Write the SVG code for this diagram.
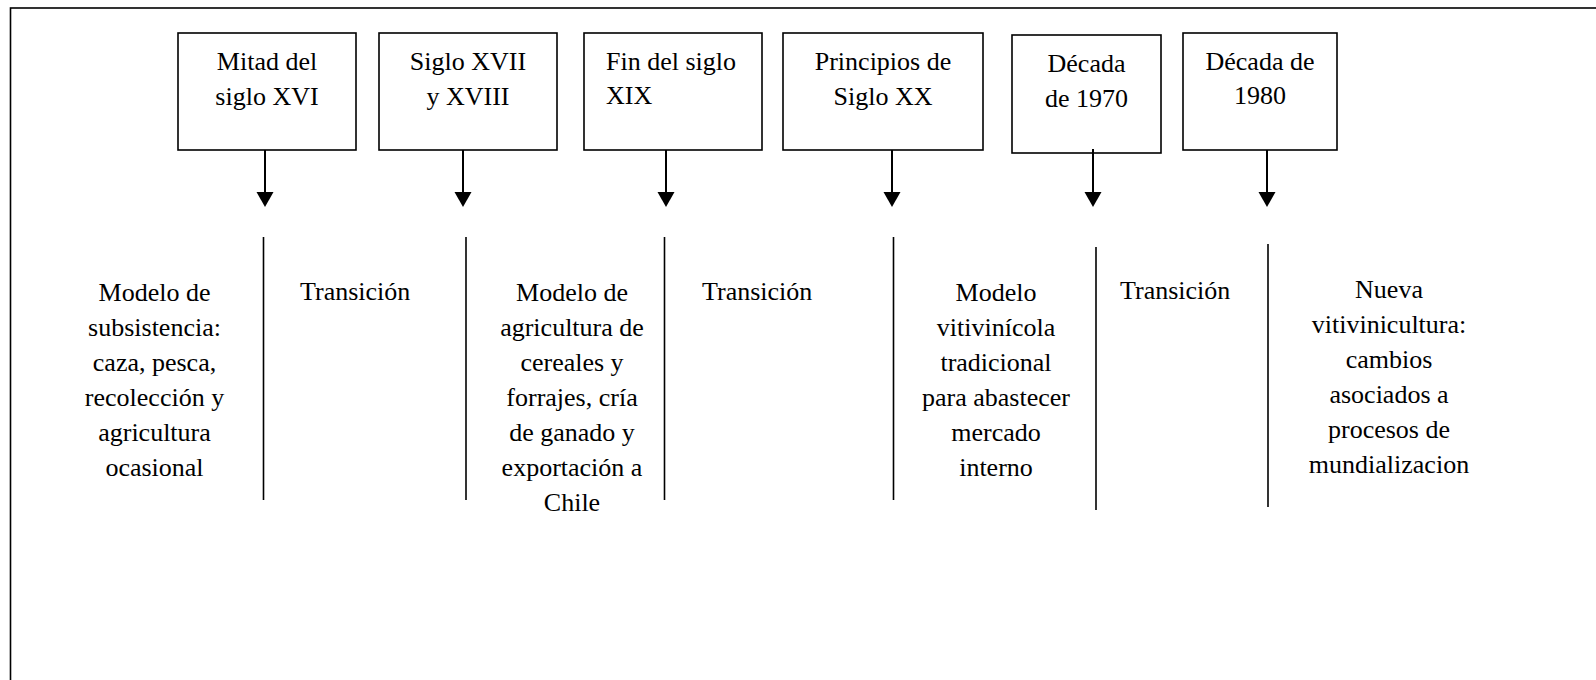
<svg xmlns="http://www.w3.org/2000/svg" width="1596" height="680" viewBox="0 0 1596 680">
<style>
  .frame{fill:none;stroke:#000;stroke-width:1.6}
  .box{fill:#fff;stroke:#000;stroke-width:1.6}
  .t{font-family:"Liberation Serif","Times New Roman",serif;font-size:26px;fill:#000}
  .c{text-anchor:middle}
  .conn{stroke:#000;stroke-width:2;fill:none}
  .div{stroke:#000;stroke-width:1.6;fill:none}
</style>
<defs>
  <marker id="arrow" markerUnits="userSpaceOnUse" markerWidth="16" markerHeight="18" refX="8" refY="8.5" orient="auto" viewBox="0 0 16 17">
    <path d="M0,0 L15,8.5 L0,17 z" fill="#000"/>
  </marker>
</defs>
<rect width="1596" height="680" fill="#fff"/>
<rect class="frame" x="10.5" y="8" width="1600" height="700"/>

<g id="node-1">
  <rect class="box" x="178" y="33" width="178" height="117"/>
  <text class="t c" x="267" y="70">Mitad del</text>
  <text class="t c" x="267" y="105">siglo XVI</text>
</g>
<g id="node-2">
  <rect class="box" x="379" y="33" width="178" height="117"/>
  <text class="t c" x="468" y="70">Siglo XVII</text>
  <text class="t c" x="468" y="105">y XVIII</text>
</g>
<g id="node-3">
  <rect class="box" x="584" y="33" width="178" height="117"/>
  <text class="t" x="606" y="70">Fin del siglo</text>
  <text class="t" x="606" y="104">XIX</text>
</g>
<g id="node-4">
  <rect class="box" x="783" y="33" width="200" height="117"/>
  <text class="t c" x="883" y="70">Principios de</text>
  <text class="t c" x="883" y="105">Siglo XX</text>
</g>
<g id="node-5">
  <rect class="box" x="1012" y="35" width="149" height="118"/>
  <text class="t c" x="1086.5" y="72">Década</text>
  <text class="t c" x="1086.5" y="107">de 1970</text>
</g>
<g id="node-6">
  <rect class="box" x="1183" y="33" width="154" height="117"/>
  <text class="t c" x="1260" y="70">Década de</text>
  <text class="t c" x="1260" y="104">1980</text>
</g>

<g id="connectors">
  <line class="conn" x1="265" y1="150" x2="265" y2="200" marker-end="url(#arrow)"/>
  <line class="conn" x1="463" y1="150" x2="463" y2="200" marker-end="url(#arrow)"/>
  <line class="conn" x1="666" y1="150" x2="666" y2="200" marker-end="url(#arrow)"/>
  <line class="conn" x1="892" y1="150" x2="892" y2="200" marker-end="url(#arrow)"/>
  <line class="conn" x1="1093" y1="149" x2="1093" y2="200" marker-end="url(#arrow)"/>
  <line class="conn" x1="1267" y1="150" x2="1267" y2="200" marker-end="url(#arrow)"/>
</g>

<g id="dividers">
  <line class="div" x1="263.5" y1="237" x2="263.5" y2="500"/>
  <line class="div" x1="466" y1="237" x2="466" y2="500"/>
  <line class="div" x1="664.5" y1="237" x2="664.5" y2="500"/>
  <line class="div" x1="893.5" y1="237" x2="893.5" y2="500"/>
  <line class="div" x1="1096" y1="247" x2="1096" y2="510"/>
  <line class="div" x1="1268" y1="244" x2="1268" y2="507"/>
</g>

<g id="period-1">
  <text class="t c" x="154.5" y="301">Modelo de</text>
  <text class="t c" x="154.5" y="336">subsistencia:</text>
  <text class="t c" x="154.5" y="371">caza, pesca,</text>
  <text class="t c" x="154.5" y="406">recolección y</text>
  <text class="t c" x="154.5" y="441">agricultura</text>
  <text class="t c" x="154.5" y="476">ocasional</text>
</g>
<g id="period-2">
  <text class="t" x="300" y="300">Transición</text>
</g>
<g id="period-3">
  <text class="t c" x="572" y="301">Modelo de</text>
  <text class="t c" x="572" y="336">agricultura de</text>
  <text class="t c" x="572" y="371">cereales y</text>
  <text class="t c" x="572" y="406">forrajes, cría</text>
  <text class="t c" x="572" y="441">de ganado y</text>
  <text class="t c" x="572" y="476">exportación a</text>
  <text class="t c" x="572" y="511">Chile</text>
</g>
<g id="period-4">
  <text class="t" x="702" y="300">Transición</text>
</g>
<g id="period-5">
  <text class="t c" x="996" y="301">Modelo</text>
  <text class="t c" x="996" y="336">vitivinícola</text>
  <text class="t c" x="996" y="371">tradicional</text>
  <text class="t c" x="996" y="406">para abastecer</text>
  <text class="t c" x="996" y="441">mercado</text>
  <text class="t c" x="996" y="476">interno</text>
</g>
<g id="period-6">
  <text class="t" x="1120" y="299">Transición</text>
</g>
<g id="period-7">
  <text class="t c" x="1389" y="298">Nueva</text>
  <text class="t c" x="1389" y="333">vitivinicultura:</text>
  <text class="t c" x="1389" y="368">cambios</text>
  <text class="t c" x="1389" y="403">asociados a</text>
  <text class="t c" x="1389" y="438">procesos de</text>
  <text class="t c" x="1389" y="473">mundializacion</text>
</g>
</svg>
